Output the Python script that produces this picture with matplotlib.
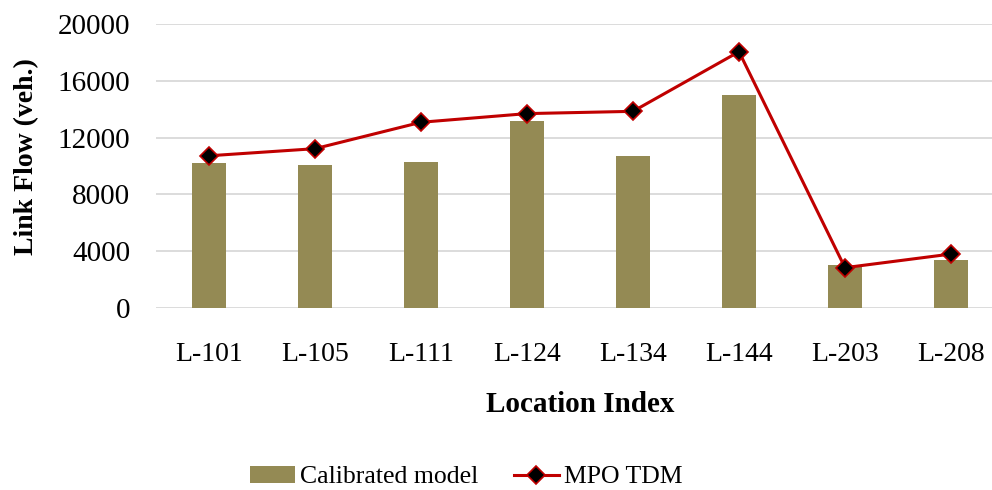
import numpy as np
import matplotlib.pyplot as plt

plt.rcParams["font.family"] = ["Liberation Serif", "DejaVu Serif"]

locations = ["L-101", "L-105", "L-111", "L-124", "L-134", "L-144", "L-203", "L-208"]
calibrated = [10200, 10100, 10280, 13170, 10700, 15000, 3030, 3380]
mpo_tdm = [10720, 11220, 13080, 13690, 13850, 18050, 2840, 3800]

COLOR_BAR = "#948A54"
COLOR_LINE = "#C00000"
COLOR_GRID = "#D9D9D9"

fig = plt.figure(figsize=(9.92, 4.9), dpi=100)
ax = fig.add_axes([156 / 992, 1 - 308 / 490, 848 / 992, 284 / 490])

x = np.arange(len(locations))
bars = ax.bar(x, calibrated, width=0.32, color=COLOR_BAR, label="Calibrated model", zorder=2)
line, = ax.plot(x, mpo_tdm, color=COLOR_LINE, lw=2.2, marker="D", ms=9,
                mfc="black", mec=COLOR_LINE, mew=1.2, label="MPO TDM", zorder=3)

ax.set_xlim(-0.5, len(locations) - 0.5)
ax.set_ylim(0, 20000)
ax.set_yticks(np.arange(0, 20001, 4000))
ax.set_xticks(x)
ax.set_xticklabels(locations)
ax.grid(axis="y", color=COLOR_GRID, lw=1.3, zorder=0)
ax.set_axisbelow(True)
for s in ax.spines.values():
    s.set_visible(False)
ax.tick_params(axis="both", length=0)
ax.tick_params(axis="y", pad=18.5, labelsize=21)
ax.tick_params(axis="x", pad=24.5, labelsize=20)

# axis titles placed by figure coords
fig.text(27 / 992, 1 - 157 / 490, "Link Flow (veh.)", fontsize=20,
         fontweight="bold", rotation=90, ha="center", va="center")
fig.text(580 / 992, 1 - 404 / 490, "Location Index", fontsize=21,
         fontweight="bold", ha="center", va="center")

fig.legend([bars, line], ["Calibrated model", "MPO TDM"], loc="center",
           bbox_to_anchor=(466 / 992, 1 - 477 / 490), ncol=2,
           frameon=False, fontsize=18.5, handlelength=1.75, columnspacing=1.4,
           handletextpad=0.2, borderpad=0)

fig.savefig("out.png", dpi=100)
